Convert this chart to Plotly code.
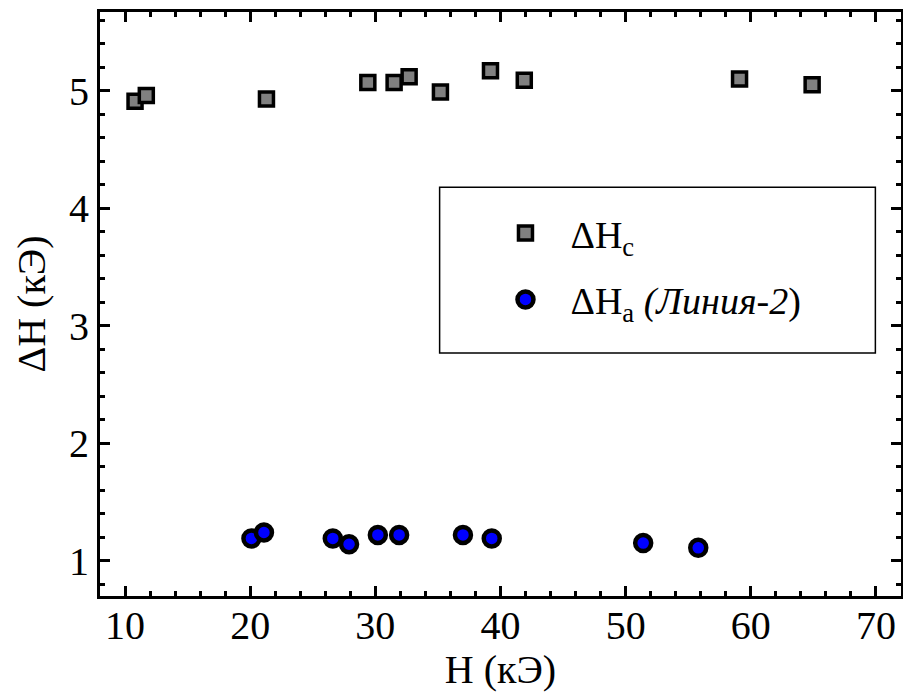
import plotly.graph_objects as go

# Data
hc_x = [10.8, 11.7, 21.3, 29.4, 31.5, 32.7, 35.2, 39.2, 41.9, 59.1, 64.9]
hc_y = [4.91, 4.96, 4.93, 5.07, 5.07, 5.12, 4.99, 5.17, 5.09, 5.10, 5.05]

ha_x = [20.1, 21.1, 26.6, 27.9, 30.2, 31.9, 37.0, 39.3, 51.4, 55.8]
ha_y = [1.19, 1.24, 1.19, 1.14, 1.22, 1.22, 1.22, 1.19, 1.15, 1.11]

name_c = "ΔH<sub>c</sub>"
name_a = "ΔH<sub>a</sub> <i>(Линия-2</i>)"

FONT = "Liberation Serif"
FS = 40

fig = go.Figure()
fig.add_trace(go.Scatter(
    x=hc_x, y=hc_y, mode="markers", name=name_c, legendgroup="c",
    marker=dict(symbol="square", size=14, color="#808080",
                line=dict(color="black", width=3.5)),
))
fig.add_trace(go.Scatter(
    x=ha_x, y=ha_y, mode="markers", name=name_a, legendgroup="a",
    marker=dict(symbol="circle", size=16, color="#0000ff",
                line=dict(color="black", width=4.5)),
))

axis_common = dict(
    showline=True, linecolor="black", linewidth=3, mirror="allticks",
    ticks="inside", ticklen=10, tickwidth=3, tickcolor="black",
    showgrid=False, zeroline=False, automargin=False,
    tickfont=dict(family=FONT, size=FS, color="black"),
)

fig.update_xaxes(
    range=[8, 72], tick0=10, dtick=10, ticklabelstandoff=-8,
    minor=dict(dtick=2, ticks="inside", ticklen=5, tickwidth=3, tickcolor="black"),
    title=dict(text="H (кЭ)", font=dict(family=FONT, size=FS, color="black"), standoff=0),
    **axis_common,
)
fig.update_yaxes(
    range=[0.7, 5.67], tick0=1, dtick=1,
    minor=dict(dtick=0.2, ticks="inside", ticklen=5, tickwidth=3, tickcolor="black"),
    title=dict(text="ΔH (кЭ)", font=dict(family=FONT, size=FS, color="black"), standoff=12),
    **axis_common,
)

fig.update_layout(
    template="none",
    width=903, height=692,
    margin=dict(l=100, r=2, t=12, b=96),
    plot_bgcolor="white", paper_bgcolor="white",
    font=dict(family=FONT, size=FS, color="black"),
    legend=dict(
        x=0.475, y=0.675, xanchor="left", yanchor="top",
        bgcolor="rgba(0,0,0,0)", borderwidth=0,
        font=dict(family=FONT, size=38, color="black"),
        tracegroupgap=14, itemwidth=80,
    ),
    shapes=[dict(type="rect", xref="paper", yref="paper",
                 x0=0.424, x1=0.968, y0=0.416, y1=0.700,
                 line=dict(color="black", width=1.5), fillcolor="white",
                 layer="below")],
)

fig.write_html("out.html", config={"displayModeBar": False},
               post_script="document.body.style.margin='0';document.body.style.overflow='hidden';")
